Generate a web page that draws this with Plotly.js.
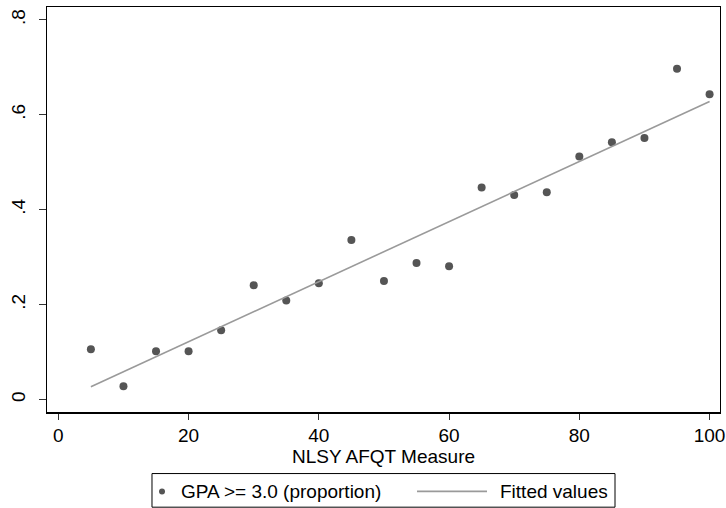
<!DOCTYPE html>
<html>
<head>
<meta charset="utf-8">
<script src="https://cdn.plot.ly/plotly-3.0.1.min.js"></script>
<style>html,body{margin:0;padding:0;background:#fff;}#chart{width:726px;height:508px;}</style>
</head>
<body>
<div id="chart"></div>
<script>
var afqt = [5,10,15,20,25,30,35,40,45,50,55,60,65,70,75,80,85,90,95,100];
var gpaShare = [0.106,0.028,0.102,0.102,0.146,0.241,0.209,0.245,0.336,0.250,0.288,0.281,0.447,0.431,0.437,0.512,0.542,0.551,0.697,0.643];
var fitX = [5,100];
var fitY = [0.027,0.628];
var xTicks = [0,20,40,60,80,100];
var xTickLabels = ['0','20','40','60','80','100'];
var yTicks = [0,0.2,0.4,0.6,0.8];
var yTickLabels = ['0','.2','.4','.6','.8'];
var seriesNames = ['GPA >= 3.0 (proportion)', 'Fitted values'];
var xTitle = 'NLSY AFQT Measure';
var markerColor = '#555555';
var lineColor = '#9a9a9a';

var traces = [
  {x: afqt, y: gpaShare, type: 'scatter', mode: 'markers', name: seriesNames[0],
   marker: {color: markerColor, size: 8}},
  {x: fitX, y: fitY, type: 'scatter', mode: 'lines', name: seriesNames[1],
   line: {color: lineColor, width: 1.6}}
];
var font = {family: 'Liberation Sans, Arial, sans-serif', size: 19, color: '#000'};

// custom legend (paper coords relative to plot area)
var legY = -0.196;
var shapes = [
  {type: 'rect', xref: 'paper', yref: 'paper', x0: 0.156, x1: 0.844, y0: -0.235, y1: -0.152,
   line: {color: '#000', width: 1}, fillcolor: '#fff', layer: 'above'},
  {type: 'circle', xref: 'paper', yref: 'paper', xsizemode: 'pixel', ysizemode: 'pixel',
   xanchor: 0.1709, yanchor: legY, x0: -3, x1: 3, y0: -3, y1: 3,
   fillcolor: markerColor, line: {color: markerColor, width: 0}, layer: 'above'},
  {type: 'line', xref: 'paper', yref: 'paper', x0: 0.5498, x1: 0.6538, y0: legY, y1: legY,
   line: {color: lineColor, width: 1.6}, layer: 'above'}
];
var annotations = [
  {xref: 'paper', yref: 'paper', x: 0.196, y: legY, xanchor: 'left', yanchor: 'middle',
   text: seriesNames[0], showarrow: false, font: font},
  {xref: 'paper', yref: 'paper', x: 0.670, y: legY, xanchor: 'left', yanchor: 'middle',
   text: seriesNames[1], showarrow: false, font: font},
  {xref: 'paper', yref: 'paper', x: 0.5, y: -0.109, xanchor: 'center', yanchor: 'middle',
   text: xTitle, showarrow: false, font: font}
];

var layout = {
  width: 726, height: 508,
  margin: {l: 47, r: 6, t: 7, b: 96, autoexpand: false},
  paper_bgcolor: '#fff', plot_bgcolor: '#fff',
  font: font,
  showlegend: false,
  shapes: shapes,
  annotations: annotations,
  xaxis: {range: [-1.74, 101.6], tickvals: xTicks, ticktext: xTickLabels, automargin: false,
          showgrid: false, zeroline: false, showline: true, linecolor: '#000', linewidth: 1.5,
          mirror: true, ticks: 'outside', ticklen: 6, tickcolor: '#333', tickfont: font},
  yaxis: {range: [-0.026, 0.827], tickvals: yTicks, ticktext: yTickLabels, tickangle: -90, automargin: false,
          showgrid: false, zeroline: false, showline: true, linecolor: '#000', linewidth: 1.2,
          mirror: true, ticks: 'outside', ticklen: 7, tickcolor: '#333', tickfont: font,
          ticklabelstandoff: 6}
};
Plotly.newPlot('chart', traces, layout, {displayModeBar: false, staticPlot: true});
</script>
</body>
</html>
